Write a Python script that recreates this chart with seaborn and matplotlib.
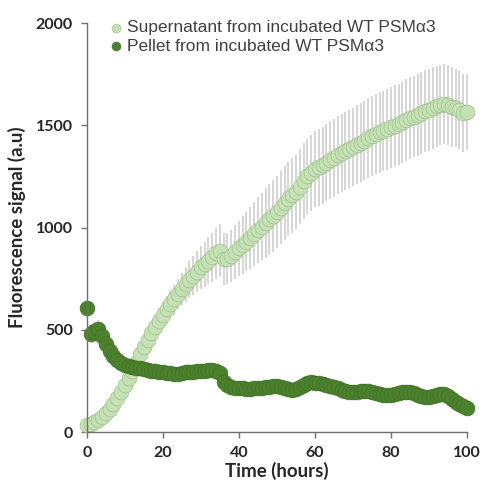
import numpy as np
import matplotlib
matplotlib.use('Agg')
import matplotlib.pyplot as plt
import pandas as pd
import seaborn as sns

# time in hours (1 h steps)
hours = list(range(0, 101))

supernatant = [35, 40, 50, 60, 75, 95, 115, 140, 165, 195,
               230, 265, 300, 340, 380, 415, 450, 485, 515, 545,
               572, 600, 625, 650, 675, 700, 722, 745, 765, 785,
               805, 820, 838, 855, 875, 888, 845, 848, 862, 880,
               898, 915, 932, 950, 968, 988, 1005, 1022, 1040, 1058,
               1078, 1098, 1120, 1140, 1158, 1175, 1200, 1228, 1250, 1268,
               1285, 1295, 1305, 1318, 1330, 1342, 1355, 1365, 1375, 1385,
               1395, 1405, 1415, 1425, 1438, 1448, 1458, 1465, 1472, 1480,
               1490, 1498, 1505, 1515, 1525, 1535, 1542, 1550, 1560, 1568,
               1575, 1585, 1592, 1600, 1605, 1598, 1590, 1585, 1575, 1560,
               1565]
supernatant_err = [15, 15, 18, 20, 22, 25, 28, 30, 32, 35,
                   38, 40, 42, 45, 48, 50, 52, 55, 58, 60,
                   62, 65, 68, 70, 75, 80, 85, 90, 95, 100,
                   105, 110, 115, 120, 125, 130, 128, 125, 128, 132,
                   136, 140, 145, 150, 155, 160, 165, 170, 172, 175,
                   176, 178, 180, 180, 182, 182, 184, 184, 185, 186,
                   186, 187, 188, 188, 189, 190, 190, 191, 191, 192,
                   192, 193, 193, 194, 194, 195, 195, 196, 196, 197,
                   197, 198, 198, 198, 199, 199, 199, 200, 200, 200,
                   200, 200, 198, 196, 195, 195, 195, 192, 190, 190,
                   188]

pellet = [605, 480, 495, 505, 470, 430, 395, 370, 355, 340,
          330, 322, 318, 315, 312, 308, 305, 300, 298, 295,
          292, 290, 288, 286, 285, 287, 292, 295, 296, 298,
          300, 300, 302, 303, 300, 290, 245, 232, 222, 218,
          215, 214, 212, 213, 215, 216, 218, 220, 222, 224,
          226, 222, 215, 210, 208, 212, 220, 230, 240, 245,
          242, 238, 235, 232, 228, 222, 215, 208, 202, 198,
          196, 197, 200, 203, 202, 198, 192, 187, 184, 182,
          183, 186, 190, 195, 197, 196, 190, 183, 176, 172,
          172, 176, 182, 188, 186, 175, 160, 148, 136, 126,
          118]
pellet_err = [0, 45, 45, 42, 40, 40, 38, 38, 36, 36,
              35, 35, 35, 35, 36, 38, 40, 40, 38, 36,
              35, 35, 35, 34, 34, 35, 36, 38, 38, 36,
              35, 35, 34, 34, 34, 32, 32, 30, 30, 30,
              30, 30, 30, 30, 30, 30, 30, 30, 30, 30,
              30, 30, 30, 30, 30, 30, 30, 32, 32, 32,
              32, 32, 30, 30, 30, 30, 30, 30, 30, 30,
              30, 30, 30, 30, 30, 30, 30, 30, 30, 30,
              30, 30, 30, 30, 30, 30, 30, 30, 30, 30,
              30, 30, 30, 30, 30, 30, 32, 32, 32, 32,
              30]

labels = ['Supernatant from incubated WT PSM\u03b13', 'Pellet from incubated WT PSM\u03b13']
colors = ['#c5e0b4', '#4b802d']
edges = ['#93bb80', '#3f7026']

df_sup = pd.DataFrame({'Time': hours, 'Signal': supernatant, 'Err': supernatant_err})
df_pel = pd.DataFrame({'Time': hours, 'Signal': pellet, 'Err': pellet_err})

sns.set_style('white')
plt.rcParams['font.family'] = ['Lato', 'DejaVu Sans']

fig = plt.figure(figsize=(4.82, 4.90), dpi=100)
ax = fig.add_axes([0.180, 0.118, 0.789, 0.835])

for df, lab, col, ec in [(df_sup, labels[0], colors[0], edges[0]),
                         (df_pel, labels[1], colors[1], edges[1])]:
    ax.errorbar(df['Time'], df['Signal'], yerr=df['Err'], fmt='none',
                ecolor='#d2d2d2', elinewidth=1.3, capsize=0, zorder=1, clip_on=False)
    sns.scatterplot(x='Time', y='Signal', data=df, ax=ax, color=col, s=115,
                    edgecolor=ec, linewidth=0.4, label=lab, zorder=2, clip_on=False)

ax.set_xlim(0, 100)
ax.set_ylim(0, 2000)
ax.set_xticks([0, 20, 40, 60, 80, 100])
ax.set_yticks([0, 500, 1000, 1500, 2000])

for side in ['top', 'right']:
    ax.spines[side].set_visible(False)
for side in ['left', 'bottom']:
    ax.spines[side].set_color('#707070')
    ax.spines[side].set_linewidth(1.0)

ax.tick_params(axis='both', direction='out', length=4, width=1, color='#707070',
               labelsize=11.5, pad=6, bottom=True, left=True)
for t in ax.get_xticklabels() + ax.get_yticklabels():
    t.set_fontweight('bold')

ax.set_xlabel('Time (hours)', fontsize=13.5, fontweight='bold', labelpad=1)
ax.set_ylabel('Fluorescence signal (a.u)', fontsize=13.5, fontweight='bold', labelpad=7)

leg = ax.legend(loc='upper left', bbox_to_anchor=(-0.01, 1.045), frameon=False,
                handletextpad=-0.35, labelspacing=0.2, markerscale=0.6,
                prop={'family': 'Liberation Sans', 'size': 12.5})
for t in leg.get_texts():
    t.set_color('#404040')

plt.savefig('out.png', dpi=100)
